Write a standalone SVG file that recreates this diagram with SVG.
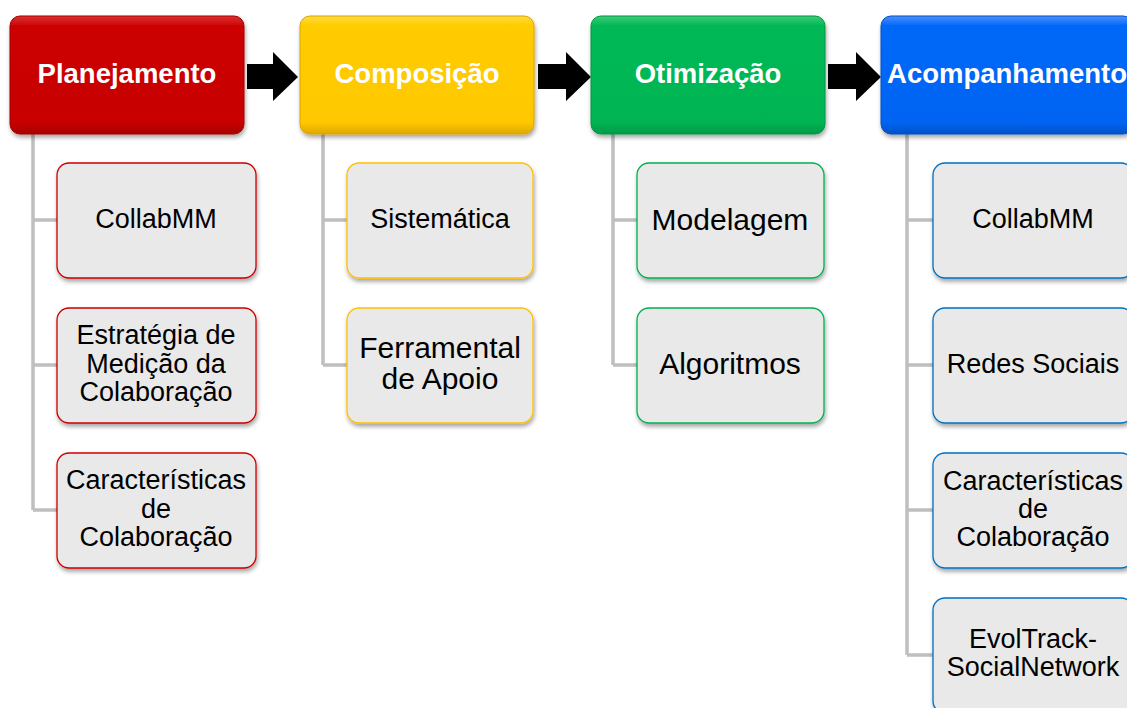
<svg xmlns="http://www.w3.org/2000/svg" width="1127" height="708" viewBox="0 0 1127 708">
<style>
text{font-family:"Liberation Sans",Arial,sans-serif;text-anchor:middle}
.h{font-weight:bold;font-size:27.5px;fill:#fff}
.c{font-size:27px;fill:#000}
.b{font-size:30px;fill:#000}
.child{fill:#e9e9e9;stroke-width:1.3}
.conn{fill:none;stroke:#bfbfbf;stroke-width:3.5}
.arrow{fill:#000}
</style>
<defs>
<filter id="sh" x="-10%" y="-10%" width="130%" height="140%">
<feDropShadow dx="1" dy="3" stdDeviation="2" flood-color="#000" flood-opacity="0.35"/>
</filter>
<linearGradient id="gr" x1="0" y1="0" x2="0" y2="1"><stop offset="0" stop-color="#e03030"/><stop offset="0.08" stop-color="#cc0404"/><stop offset="0.9" stop-color="#c80000"/><stop offset="1" stop-color="#a80000"/></linearGradient>
<linearGradient id="gy" x1="0" y1="0" x2="0" y2="1"><stop offset="0" stop-color="#ffdb40"/><stop offset="0.08" stop-color="#ffcc00"/><stop offset="0.9" stop-color="#ffc800"/><stop offset="1" stop-color="#e0a800"/></linearGradient>
<linearGradient id="gg" x1="0" y1="0" x2="0" y2="1"><stop offset="0" stop-color="#3ccc78"/><stop offset="0.08" stop-color="#06b956"/><stop offset="0.9" stop-color="#04b452"/><stop offset="1" stop-color="#059a48"/></linearGradient>
<linearGradient id="gb" x1="0" y1="0" x2="0" y2="1"><stop offset="0" stop-color="#4a90ff"/><stop offset="0.08" stop-color="#0668f8"/><stop offset="0.9" stop-color="#0664f2"/><stop offset="1" stop-color="#0552c8"/></linearGradient>
</defs>
<rect width="1127" height="708" fill="#fff"/>

<g id="connectors">
<path class="conn" d="M33,134 V510 M33,220 H57 M33,365 H57 M33,510 H57"/>
<path class="conn" d="M323,134 V365 M323,220 H347 M323,365 H347"/>
<path class="conn" d="M613,134 V365 M613,220 H637 M613,365 H637"/>
<path class="conn" d="M907,134 V655 M907,220 H933 M907,365 H933 M907,510 H933 M907,655 H933"/>
<path class="arrow" d="M247,64 H273 V52 L298,77 L273,101 V89 H247 Z"/>
<path class="arrow" d="M538,64 H566 V52 L591,77 L566,101 V89 H538 Z"/>
<path class="arrow" d="M828,64 H856 V52 L881,77 L856,101 V89 H828 Z"/>
</g>

<g id="planejamento">
<rect x="10" y="16" width="234" height="118" rx="10" fill="url(#gr)" stroke="#a00000" stroke-width="1" filter="url(#sh)"/>
<text class="h" x="127" y="83">Planejamento</text>
</g>
<g id="composicao">
<rect x="300" y="16" width="234" height="118" rx="10" fill="url(#gy)" stroke="#d9a400" stroke-width="1" filter="url(#sh)"/>
<text class="h" x="417" y="83">Composição</text>
</g>
<g id="otimizacao">
<rect x="591" y="16" width="234" height="118" rx="10" fill="url(#gg)" stroke="#04953f" stroke-width="1" filter="url(#sh)"/>
<text class="h" x="708" y="83">Otimização</text>
</g>
<g id="acompanhamento">
<rect x="881" y="16" width="252" height="118" rx="10" fill="url(#gb)" stroke="#0450c0" stroke-width="1" filter="url(#sh)"/>
<text class="h" x="1007" y="83">Acompanhamento</text>
</g>

<g id="p1"><rect class="child" x="57" y="163" width="199" height="115" rx="12" stroke="#cc0000" filter="url(#sh)"/><text class="c" x="156" y="228">CollabMM</text></g>
<g id="p2"><rect class="child" x="57" y="308" width="199" height="115" rx="12" stroke="#cc0000" filter="url(#sh)"/><text class="c" x="156" y="344">Estratégia de</text><text class="c" x="156" y="372.5">Medição da</text><text class="c" x="156" y="401">Colaboração</text></g>
<g id="p3"><rect class="child" x="57" y="453" width="199" height="115" rx="12" stroke="#cc0000" filter="url(#sh)"/><text class="c" x="156" y="489">Características</text><text class="c" x="156" y="517.5">de</text><text class="c" x="156" y="546">Colaboração</text></g>

<g id="c1"><rect class="child" x="347" y="163" width="186" height="115" rx="12" stroke="#ffc000" filter="url(#sh)"/><text class="c" x="440" y="228">Sistemática</text></g>
<g id="c2"><rect class="child" x="347" y="308" width="186" height="115" rx="12" stroke="#ffc000" filter="url(#sh)"/><text class="b" x="440" y="358">Ferramental</text><text class="b" x="440" y="389">de Apoio</text></g>

<g id="o1"><rect class="child" x="637" y="163" width="187" height="115" rx="12" stroke="#00b050" filter="url(#sh)"/><text class="b" x="730" y="230">Modelagem</text></g>
<g id="o2"><rect class="child" x="637" y="308" width="187" height="115" rx="12" stroke="#00b050" filter="url(#sh)"/><text class="b" x="730" y="374">Algoritmos</text></g>

<g id="a1"><rect class="child" x="933" y="163" width="200" height="115" rx="12" stroke="#0070c0" filter="url(#sh)"/><text class="c" x="1033" y="228">CollabMM</text></g>
<g id="a2"><rect class="child" x="933" y="308" width="200" height="115" rx="12" stroke="#0070c0" filter="url(#sh)"/><text class="c" x="1033" y="373">Redes Sociais</text></g>
<g id="a3"><rect class="child" x="933" y="453" width="200" height="115" rx="12" stroke="#0070c0" filter="url(#sh)"/><text class="c" x="1033" y="490">Características</text><text class="c" x="1033" y="518">de</text><text class="c" x="1033" y="546">Colaboração</text></g>
<g id="a4"><rect class="child" x="933" y="598" width="200" height="115" rx="12" stroke="#0070c0" filter="url(#sh)"/><text class="c" x="1033" y="648">EvolTrack-</text><text class="c" x="1033" y="676">SocialNetwork</text></g>
</svg>
